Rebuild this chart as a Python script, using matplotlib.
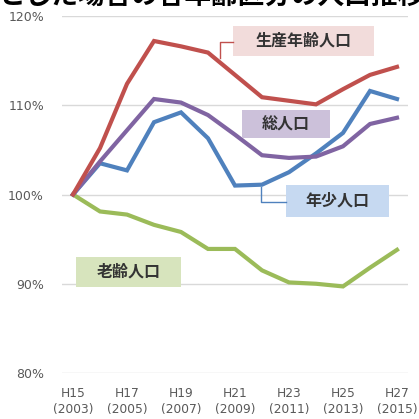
import matplotlib
matplotlib.use("Agg")
import matplotlib.pyplot as plt
from matplotlib.patches import Rectangle

plt.rcParams['font.family'] = ['Noto Sans CJK JP', 'DejaVu Sans']

years = ["H15\n(2003)", "", "H17\n(2005)", "", "H19\n(2007)", "", "H21\n(2009)", "",
         "H23\n(2011)", "", "H25\n(2013)", "", "H27\n(2015)"]
working = [100, 105.2, 112.4, 117.2, 116.6, 115.9, 113.4, 110.9, 110.5, 110.1, 111.8, 113.4, 114.3]
total = [100, 103.7, 107.2, 110.7, 110.3, 108.9, 106.7, 104.4, 104.1, 104.25, 105.4, 107.9, 108.6]
young = [100, 103.5, 102.7, 108.1, 109.2, 106.3, 101.0, 101.1, 102.5, 104.6, 106.9, 111.6, 110.7]
elderly = [100, 98.1, 97.75, 96.6, 95.8, 93.9, 93.9, 91.5, 90.15, 90.0, 89.7, 91.8, 93.8]
yticks = [80, 90, 100, 110, 120]
title = "とした場合の各年齢区分の人口推移"

W = H = 419
fig = plt.figure(figsize=(W / 100, H / 100), dpi=100)
ax = fig.add_axes([62 / W, (H - 373) / H, 346 / W, 357 / H])

x = list(range(len(years)))
lw = 3.0
ax.plot(x, elderly, color="#9BBB59", lw=lw, solid_joinstyle="miter")
ax.plot(x, young, color="#4F81BD", lw=lw, solid_joinstyle="miter")
ax.plot(x, total, color="#8064A2", lw=lw, solid_joinstyle="miter")
ax.plot(x, working, color="#C0504D", lw=lw, solid_joinstyle="miter")

ax.set_xlim(-11 / 27, 12 + 11 / 27)
ax.set_ylim(80, 120)
ax.set_yticks(yticks)
ax.set_yticklabels([f"{v}%" for v in yticks], fontsize=9, color="#595959",
                   family=['DejaVu Sans'])
ax.set_xticks(x)
ax.set_xticklabels(years, fontsize=8.8, color="#595959", family=['DejaVu Sans'],
                   linespacing=1.35)
ax.tick_params(length=0)
ax.tick_params(axis='x', pad=10)
ax.tick_params(axis='y', pad=13)
ax.grid(axis='y', color="#D9D9D9", lw=1)
ax.set_axisbelow(True)
for s in ax.spines.values():
    s.set_visible(False)

# overlay in pixel coordinates for label boxes
ov = fig.add_axes([0, 0, 1, 1], facecolor='none')
ov.set_xlim(0, W)
ov.set_ylim(H, 0)
ov.axis('off')

def box(x0, y0, x1, y1, fc, text):
    ov.add_patch(Rectangle((x0, y0), x1 - x0, y1 - y0, facecolor=fc, edgecolor='none'))
    ov.text((x0 + x1) / 2, (y0 + y1) / 2, text, ha='center', va='center',
            fontsize=11.5, fontweight='bold', color="#333333")

ov.plot([233, 220, 220], [41.7, 41.7, 58], color="#C0504D", lw=1)
ov.plot([286, 260.7, 260.7], [201.7, 201.7, 187], color="#4F81BD", lw=1)
box(233, 26, 374, 56, "#F2DCDB", "生産年齢人口")
box(242, 110, 330, 138, "#CCC1DA", "総人口")
box(286, 185, 389, 217, "#C6D9F1", "年少人口")
box(76, 257, 181, 287, "#D7E4BD", "老齢人口")

fig.text(-2 / W, (H - 10) / H, title, ha='left', va='bottom', fontsize=19.2,
         fontweight='bold', color="#000000")

fig.savefig("out.png", dpi=100)
